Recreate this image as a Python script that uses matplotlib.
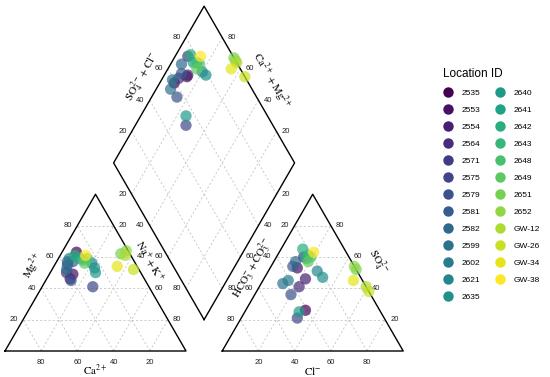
import numpy as np
import matplotlib.pyplot as plt
from matplotlib.lines import Line2D

plt.rcParams['font.family'] = ['Liberation Sans', 'DejaVu Sans']
plt.rcParams['mathtext.fontset'] = 'stix'

# sample ids and major ion percentages (meq %)
ids = ['2535', '2553', '2554', '2564', '2571', '2575', '2579', '2581', '2582',
       '2599', '2602', '2621', '2635', '2640', '2641', '2642', '2643', '2648',
       '2649', '2651', '2652', 'GW-12', 'GW-26', 'GW-34', 'GW-38']
ca = [29, 38, 41, 41, 38, 31, 41, 34, 37, 40, 35, 24, 24, 25, 29, 31, 28, 25,
      28, 5, 1, 3, 3, 11, 25]
mg = [63, 49, 46, 50, 55, 41, 45, 57, 57, 52, 59, 56, 53, 50, 59, 61, 58, 59,
      56, 62, 64, 61, 52, 54, 61]
nak = [8, 13, 13, 9, 7, 28, 14, 9, 6, 8, 6, 20, 23, 25, 12, 8, 14, 16,
       16, 33, 35, 36, 45, 35, 14]
hco3 = [41, 32, 31, 37, 25, 48, 44, 34, 31, 45, 41, 22, 21, 45, 24, 23, 22, 21,
        24, 0, 0, 0, 0, 5, 18]
so4 = [26, 53, 46, 41, 60, 21, 36, 54, 57, 43, 45, 51, 47, 25, 59, 65, 61, 60,
       57, 52, 54, 41, 38, 45, 63]
cl = [33, 15, 23, 22, 15, 31, 20, 12, 12, 12, 14, 27, 32, 30, 17, 12, 17, 19,
      19, 48, 46, 59, 62, 50, 19]

S3 = np.sqrt(3) / 2
GAP = 0.2
GRID = dict(color='#c4c4c4', lw=0.6, ls=(0, (2.5, 2.5)), zorder=1)
EDGE = dict(color='black', lw=1.0, zorder=2)
TICK = dict(fontsize=5.5, color='#222222', ha='center', va='center')
TITLE = dict(fontsize=8, color='black', ha='center', va='center')


def cat_xy(c, m, n):
    t = c + m + n
    return n / t + 0.5 * m / t, S3 * m / t


def an_xy(h, s, c):
    t = h + s + c
    return 1 + GAP + c / t + 0.5 * s / t, S3 * s / t


def dia_xy(a, s):
    # a = Na+K fraction of cations, s = SO4+Cl fraction of anions
    return 0.5 * (1 + GAP) + 0.5 * (a + s), S3 * (1 + GAP + s - a)


fig = plt.figure(figsize=(5.5, 3.77), dpi=100)
ax = fig.add_axes([0, 0, 415 / 550, 1])
ax.set_xlim(-5 / 181, 410 / 181)
ax.set_ylim(-26 / 181, 351 / 181)
ax.axis('off')

levels = [0.2, 0.4, 0.6, 0.8]
for k in levels:
    for dx in (0, 1 + GAP):
        ax.plot([dx + 0.5 * k, dx + 1 - 0.5 * k], [S3 * k, S3 * k], **GRID)
        ax.plot([dx + k, dx + k + 0.5 * (1 - k)], [0, S3 * (1 - k)], **GRID)
        ax.plot([dx + 1 - k, dx + 0.5 * (1 - k)], [0, S3 * (1 - k)], **GRID)
    p0, p1 = dia_xy(k, 0), dia_xy(k, 1)
    ax.plot([p0[0], p1[0]], [p0[1], p1[1]], **GRID)
    p0, p1 = dia_xy(0, k), dia_xy(1, k)
    ax.plot([p0[0], p1[0]], [p0[1], p1[1]], **GRID)

# outlines
for dx in (0, 1 + GAP):
    ax.plot([dx, dx + 1, dx + 0.5, dx], [0, 0, S3, 0], **EDGE)
corners = [dia_xy(1, 0), dia_xy(1, 1), dia_xy(0, 1), dia_xy(0, 0), dia_xy(1, 0)]
ax.plot([p[0] for p in corners], [p[1] for p in corners], **EDGE)

# tick labels
off = 0.052
for k in levels:
    lab = str(int(round(k * 100)))
    # cation triangle
    ax.text(0.5 * k - off, S3 * k, lab, **TICK)                       # Mg
    ax.text(k + 0.5 * (1 - k) + off, S3 * (1 - k), lab, **TICK)       # Na+K
    ax.text(1 - k, -0.062, lab, **TICK)                               # Ca
    # anion triangle
    dx = 1 + GAP
    ax.text(dx + 0.5 * (1 - k) - off, S3 * (1 - k), lab, **TICK)      # HCO3
    ax.text(dx + 1 - 0.5 * k + off, S3 * k, lab, **TICK)              # SO4
    ax.text(dx + k, -0.062, lab, **TICK)                              # Cl
    # diamond
    x, y = dia_xy(0, k)
    ax.text(x - off, y, lab, **TICK)                                  # SO4+Cl
    x, y = dia_xy(1 - k, 1)
    ax.text(x + off, y, lab, **TICK)                                  # Ca+Mg
    x, y = dia_xy(k, 0)
    ax.text(x - off, y, lab, **TICK)                                  # Na+K
    x, y = dia_xy(1, 1 - k)
    ax.text(x + off, y, lab, **TICK)                                  # HCO3+CO3

ax.text(0.5, -0.108, r'$\mathrm{Ca^{2+}}$', **TITLE)
ax.text(1.7, -0.108, r'$\mathrm{Cl^{-}}$', **TITLE)
ax.text(0.155, 0.47, r'$\mathrm{Mg^{2+}}$', rotation=60, **TITLE)
ax.text(0.80, 0.50, r'$\mathrm{Na^{+}+K^{+}}$', rotation=-60, **TITLE)
ax.text(1.37, 0.46, r'$\mathrm{HCO_3^{-}+CO_3^{2-}}$', rotation=60, **TITLE)
ax.text(2.06, 0.49, r'$\mathrm{SO_4^{2-}}$', rotation=-60, **TITLE)
ax.text(0.762, 1.515, r'$\mathrm{SO_4^{2-}+Cl^{-}}$', rotation=60, **TITLE)
ax.text(1.47, 1.49, r'$\mathrm{Ca^{2+}+Mg^{2+}}$', rotation=-60, **TITLE)

colors = plt.cm.viridis(np.linspace(0, 1, len(ids)))
for i in range(len(ids)):
    cx, cy = cat_xy(ca[i], mg[i], nak[i])
    axx, ayy = an_xy(hco3[i], so4[i], cl[i])
    a = nak[i] / (ca[i] + mg[i] + nak[i])
    s = (so4[i] + cl[i]) / (hco3[i] + so4[i] + cl[i])
    dx_, dy_ = dia_xy(a, s)
    ax.scatter([cx, axx, dx_], [cy, ayy, dy_], s=66, color=colors[i],
               alpha=0.7, edgecolors='none', zorder=3)

handles = [Line2D([], [], marker='o', ls='none', markersize=7.5,
                  markerfacecolor=c, markeredgecolor='none') for c in colors]
leg = fig.legend(handles, ids, ncol=2, title='Location ID', loc='upper left',
                 bbox_to_anchor=(439 / 550, 1 - 64 / 377), frameon=False,
                 fontsize=6, title_fontsize=8.5, handlelength=1.2,
                 handletextpad=1.0, columnspacing=1.8, labelspacing=1.1,
                 borderpad=0, alignment='left')

fig.savefig('out.png', dpi=100)
